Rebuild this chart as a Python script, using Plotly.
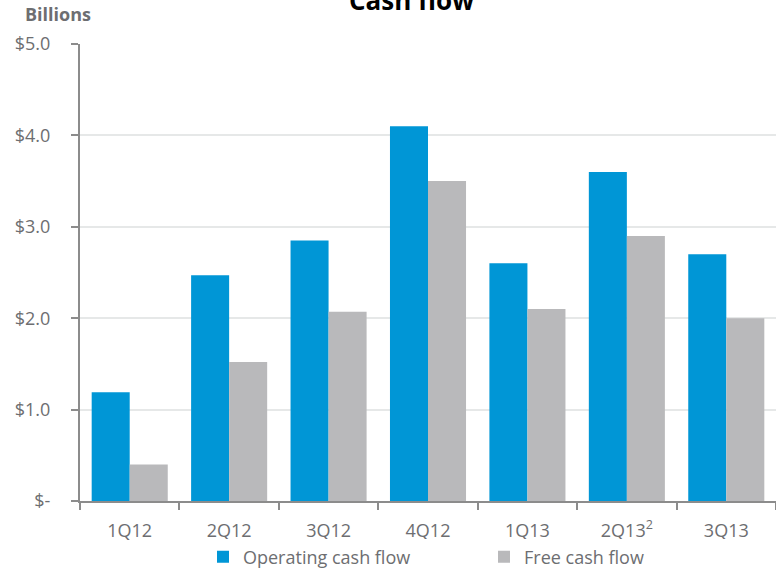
import plotly.graph_objects as go

categories = ["1Q12", "2Q12", "3Q12", "4Q12", "1Q13", "2Q13<sup>2</sup>", "3Q13"]
operating_cf = [1.19, 2.47, 2.85, 4.10, 2.60, 3.60, 2.70]
free_cf = [0.40, 1.52, 2.07, 3.50, 2.10, 2.90, 2.00]
y_tickvals = [0, 1, 2, 3, 4, 5]
y_ticktext = ["$-", "$1.0", "$2.0", "$3.0", "$4.0", "$5.0"]

BLUE = "#0096D6"
GREY = "#B9B9BB"
TEXT = "#6D6E71"
AXIS = "#8C8C8C"
FONT = "Open Sans"

PL, PR, PT, PB = 80, 0, 44, 69
PW = 776 - PL - PR
PH = 570 - PT - PB

fig = go.Figure()
fig.add_trace(go.Bar(name="Operating cash flow", x=categories, y=operating_cf,
                     marker=dict(color=BLUE, line=dict(width=0))))
fig.add_trace(go.Bar(name="Free cash flow", x=categories, y=free_cf,
                     marker=dict(color=GREY, line=dict(width=0))))

fig.update_layout(
    width=776, height=570,
    margin=dict(l=PL, r=PR, t=PT, b=PB, autoexpand=False),
    paper_bgcolor="white", plot_bgcolor="white",
    barmode="group", bargap=0.235, bargroupgap=0,
    font=dict(family=FONT, size=17, color=TEXT),
    showlegend=True,
    legend=dict(orientation="h", x=(203 - PL) / PW, xanchor="left",
                y=-(557 - (PT + PH)) / PH, yanchor="middle",
                font=dict(size=18, color=TEXT),
                entrywidth=236, entrywidthmode="pixels",
                itemwidth=30, traceorder="normal"),
    annotations=[
        dict(text="<b>Cash flow</b>", x=(411 - PL) / PW, xref="paper", xanchor="center",
             y=1 + (PT - 20) / PH, yref="paper", yanchor="bottom", showarrow=False,
             font=dict(family=FONT, size=26, color="black")),
        dict(text="<b>Billions</b>", x=(23 - PL) / PW, xref="paper", xanchor="left",
             y=1 + (PT - 28) / PH, yref="paper", yanchor="bottom", showarrow=False,
             font=dict(family=FONT, size=18, color=TEXT)),
    ],
)

fig.update_xaxes(
    showline=True, linecolor=AXIS, linewidth=2,
    ticks="outside", ticklen=7, tickwidth=1.5, tickcolor=AXIS,
    tickson="boundaries", showgrid=False,
    ticklabelstandoff=12,
    tickfont=dict(size=18, color=TEXT),
)
fig.update_yaxes(
    range=[0, 5], tickvals=y_tickvals, ticktext=y_ticktext,
    showline=True, linecolor=AXIS, linewidth=2,
    ticks="outside", ticklen=7, tickwidth=1.5, tickcolor=AXIS,
    ticklabelstandoff=17,
    showgrid=True, gridcolor="#E6E8E8", gridwidth=1.5,
    zeroline=False,
    tickfont=dict(size=18, color=TEXT),
)

fig.write_html("out.html")
